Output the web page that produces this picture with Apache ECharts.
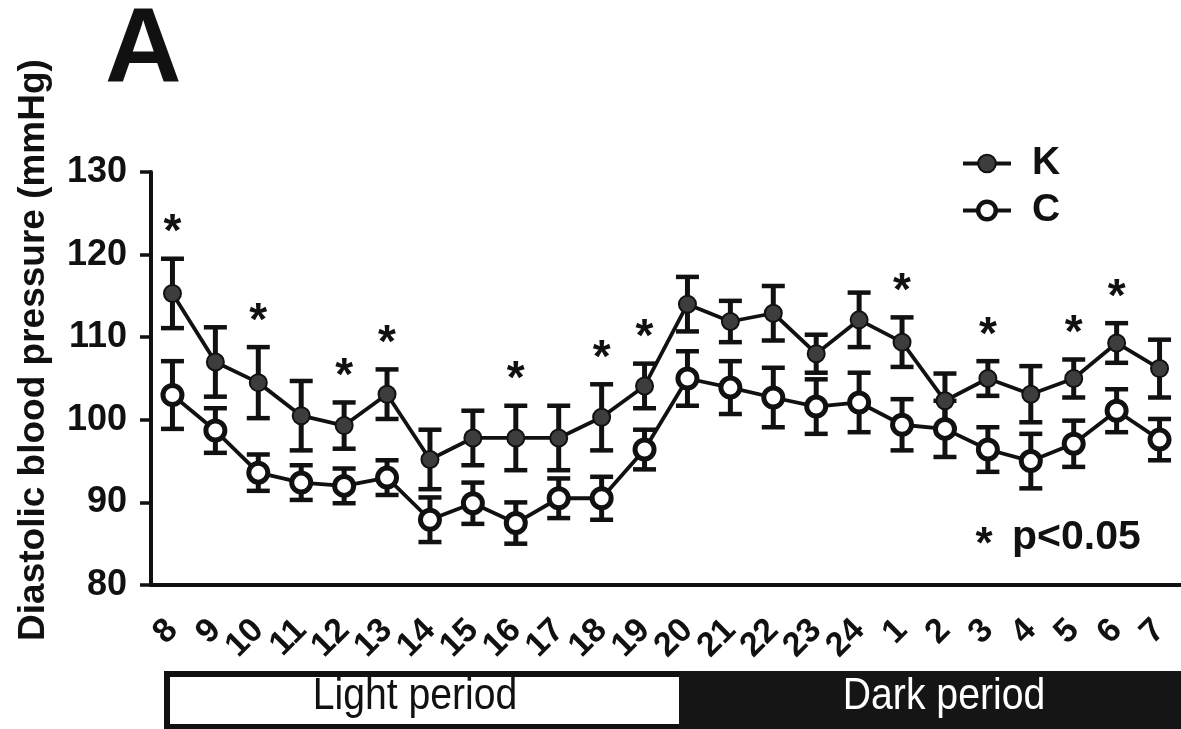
<!DOCTYPE html>
<html>
<head>
<meta charset="utf-8">
<script src="https://cdn.jsdelivr.net/npm/echarts@6/dist/echarts.min.js"></script>
<style>
  html, body { margin: 0; padding: 0; background: #fff; }
  #chart { width: 1181px; height: 729px; }
</style>
</head>
<body>
<div id="chart"></div>
<script>
// ---- data ----
const hours = ['8','9','10','11','12','13','14','15','16','17','18','19','20','21','22','23','24','1','2','3','4','5','6','7'];
const K    = [115.3,107.0,104.5,100.5, 99.3,103.1, 95.2, 97.8, 97.8, 97.8,100.3,104.1,114.0,111.9,112.9,108.0,112.1,109.4,102.3,105.0,103.1,105.0,109.3,106.2];
const Kerr = [  4.2,  4.2,  4.3,  4.2,  2.8,  3.0,  3.6,  3.3,  3.9,  3.9,  4.0,  2.7,  3.3,  2.5,  3.3,  2.3,  3.3,  3.0,  3.3,  2.1,  3.4,  2.3,  2.4,  3.5];
const C    = [103.0, 98.7, 93.6, 92.4, 92.0, 93.0, 87.9, 89.9, 87.5, 90.5, 90.5, 96.4,105.0,103.9,102.7,101.6,102.1, 99.4, 98.9, 96.4, 95.0, 97.1,101.1, 97.6];
const Cerr = [  4.1,  2.7,  2.2,  2.1,  2.1,  2.1,  2.7,  2.5,  2.5,  2.4,  2.6,  2.4,  3.3,  3.2,  3.6,  3.3,  3.6,  3.1,  3.4,  2.7,  3.3,  2.8,  2.6,  2.5];
const sig  = [1,0,1,0,1,1,0,0,1,0,1,1,0,0,0,0,0,1,0,1,0,1,1,0];
const yTicks = [80, 90, 100, 110, 120, 130];
const periods = ['Light period', 'Dark period'];

const FONT = "'Liberation Sans', Arial, Helvetica, sans-serif";

const errK = K.map((v, i) => [i, v - Kerr[i], v + Kerr[i]]);
const errC = C.map((v, i) => [i, v - Cerr[i], v + Cerr[i]]);
const stars = [];
sig.forEach((s, i) => { if (s) stars.push([i, K[i] + Kerr[i]]); });

function errRender(params, api) {
  const i = api.value(0);
  const lo = api.coord([i, api.value(1)]);
  const hi = api.coord([i, api.value(2)]);
  const hw = 11.5;
  const st = { stroke: '#111', lineWidth: 5 };
  const cap = { stroke: '#111', lineWidth: 4.5 };
  return {
    type: 'group',
    children: [
      { type: 'line', shape: { x1: hi[0], y1: hi[1], x2: lo[0], y2: lo[1] }, style: st },
      { type: 'line', shape: { x1: hi[0] - hw, y1: hi[1], x2: hi[0] + hw, y2: hi[1] }, style: cap },
      { type: 'line', shape: { x1: lo[0] - hw, y1: lo[1], x2: lo[0] + hw, y2: lo[1] }, style: cap }
    ]
  };
}

function starRender(params, api) {
  const p = api.coord([api.value(0), api.value(1)]);
  return {
    type: 'text',
    x: p[0], y: p[1] - 25,
    style: { text: '*', font: 'bold 46px ' + FONT, fill: '#111', align: 'center', verticalAlign: 'middle' }
  };
}

const chart = echarts.init(document.getElementById('chart'), null, { renderer: 'canvas' });
chart.setOption({
  animation: false,
  backgroundColor: '#fff',
  grid: { left: 151, right: 0, top: 172, bottom: 144, containLabel: false },
  legend: {
    data: [
      { name: 'K', itemStyle: { borderWidth: 2 } },
      { name: 'C', itemStyle: { borderWidth: 4.5 } }
    ],
    orient: 'vertical',
    left: 956, top: 139,
    itemWidth: 48, itemHeight: 22, itemGap: 8,
    lineStyle: { width: 4 },
    textStyle: { fontFamily: FONT, fontWeight: 'bold', fontSize: 39, color: '#111', padding: [0, 0, 0, 16] }
  },
  xAxis: {
    type: 'category',
    data: hours,
    boundaryGap: true,
    axisLine: { lineStyle: { color: '#111', width: 4 } },
    axisTick: { alignWithLabel: true, length: 13, lineStyle: { color: '#111', width: 3.5 } },
    axisLabel: { interval: 0, rotate: 45, margin: 40, fontFamily: FONT, fontWeight: 'bold', fontSize: 34, color: '#111' },
    splitLine: { show: false }
  },
  yAxis: {
    type: 'value',
    min: yTicks[0], max: yTicks[yTicks.length - 1], interval: 10,
    axisLine: { show: true, lineStyle: { color: '#111', width: 4 } },
    axisTick: { show: true, length: 11, lineStyle: { color: '#111', width: 3.5 } },
    axisLabel: { margin: 24, fontFamily: FONT, fontWeight: 'bold', fontSize: 36, color: '#111' },
    splitLine: { show: false }
  },
  series: [
    { name: 'K err', type: 'custom', renderItem: errRender, data: errK, z: 2, silent: true },
    { name: 'C err', type: 'custom', renderItem: errRender, data: errC, z: 2, silent: true },
    {
      name: 'K', type: 'line', data: K, z: 4,
      symbol: 'circle', symbolSize: 17,
      lineStyle: { color: '#111', width: 3.8 },
      itemStyle: { color: '#3d3d3d', borderColor: '#111', borderWidth: 2 }
    },
    {
      name: 'C', type: 'line', data: C, z: 4,
      symbol: 'circle', symbolSize: 19,
      lineStyle: { color: '#111', width: 3.8 },
      itemStyle: { color: '#fff', borderColor: '#111', borderWidth: 5 }
    },
    { name: 'sig', type: 'custom', renderItem: starRender, data: stars, z: 5, silent: true }
  ],
  graphic: [
    { type: 'text', x: 105, y: 53, style: { text: 'A', font: 'bold 106px ' + FONT, fill: '#111', align: 'left', verticalAlign: 'middle' } },
    { type: 'text', x: 34, y: 350, rotation: Math.PI / 2,
      style: { text: 'Diastolic blood pressure (mmHg)', font: 'bold 37px ' + FONT, fill: '#111', align: 'center', verticalAlign: 'middle' } },
    { type: 'text', x: 984, y: 546, style: { text: '*', font: 'bold 44px ' + FONT, fill: '#111', align: 'center', verticalAlign: 'middle' } },
    { type: 'text', x: 1012, y: 538, style: { text: 'p<0.05', font: 'bold 41px ' + FONT, fill: '#111', align: 'left', verticalAlign: 'middle' } },
    { type: 'rect', shape: { x: 167, y: 674, width: 515, height: 53 }, style: { fill: '#fff', stroke: '#111', lineWidth: 6 } },
    { type: 'rect', shape: { x: 679, y: 671, width: 502, height: 58 }, style: { fill: '#151515' } },
    { type: 'text', x: 415, y: 697, scaleX: 0.87, style: { text: periods[0], font: '45px ' + FONT, fill: '#111', align: 'center', verticalAlign: 'middle' } },
    { type: 'text', x: 944, y: 697, scaleX: 0.87, style: { text: periods[1], font: '45px ' + FONT, fill: '#fff', align: 'center', verticalAlign: 'middle' } }
  ]
});
</script>
</body>
</html>
